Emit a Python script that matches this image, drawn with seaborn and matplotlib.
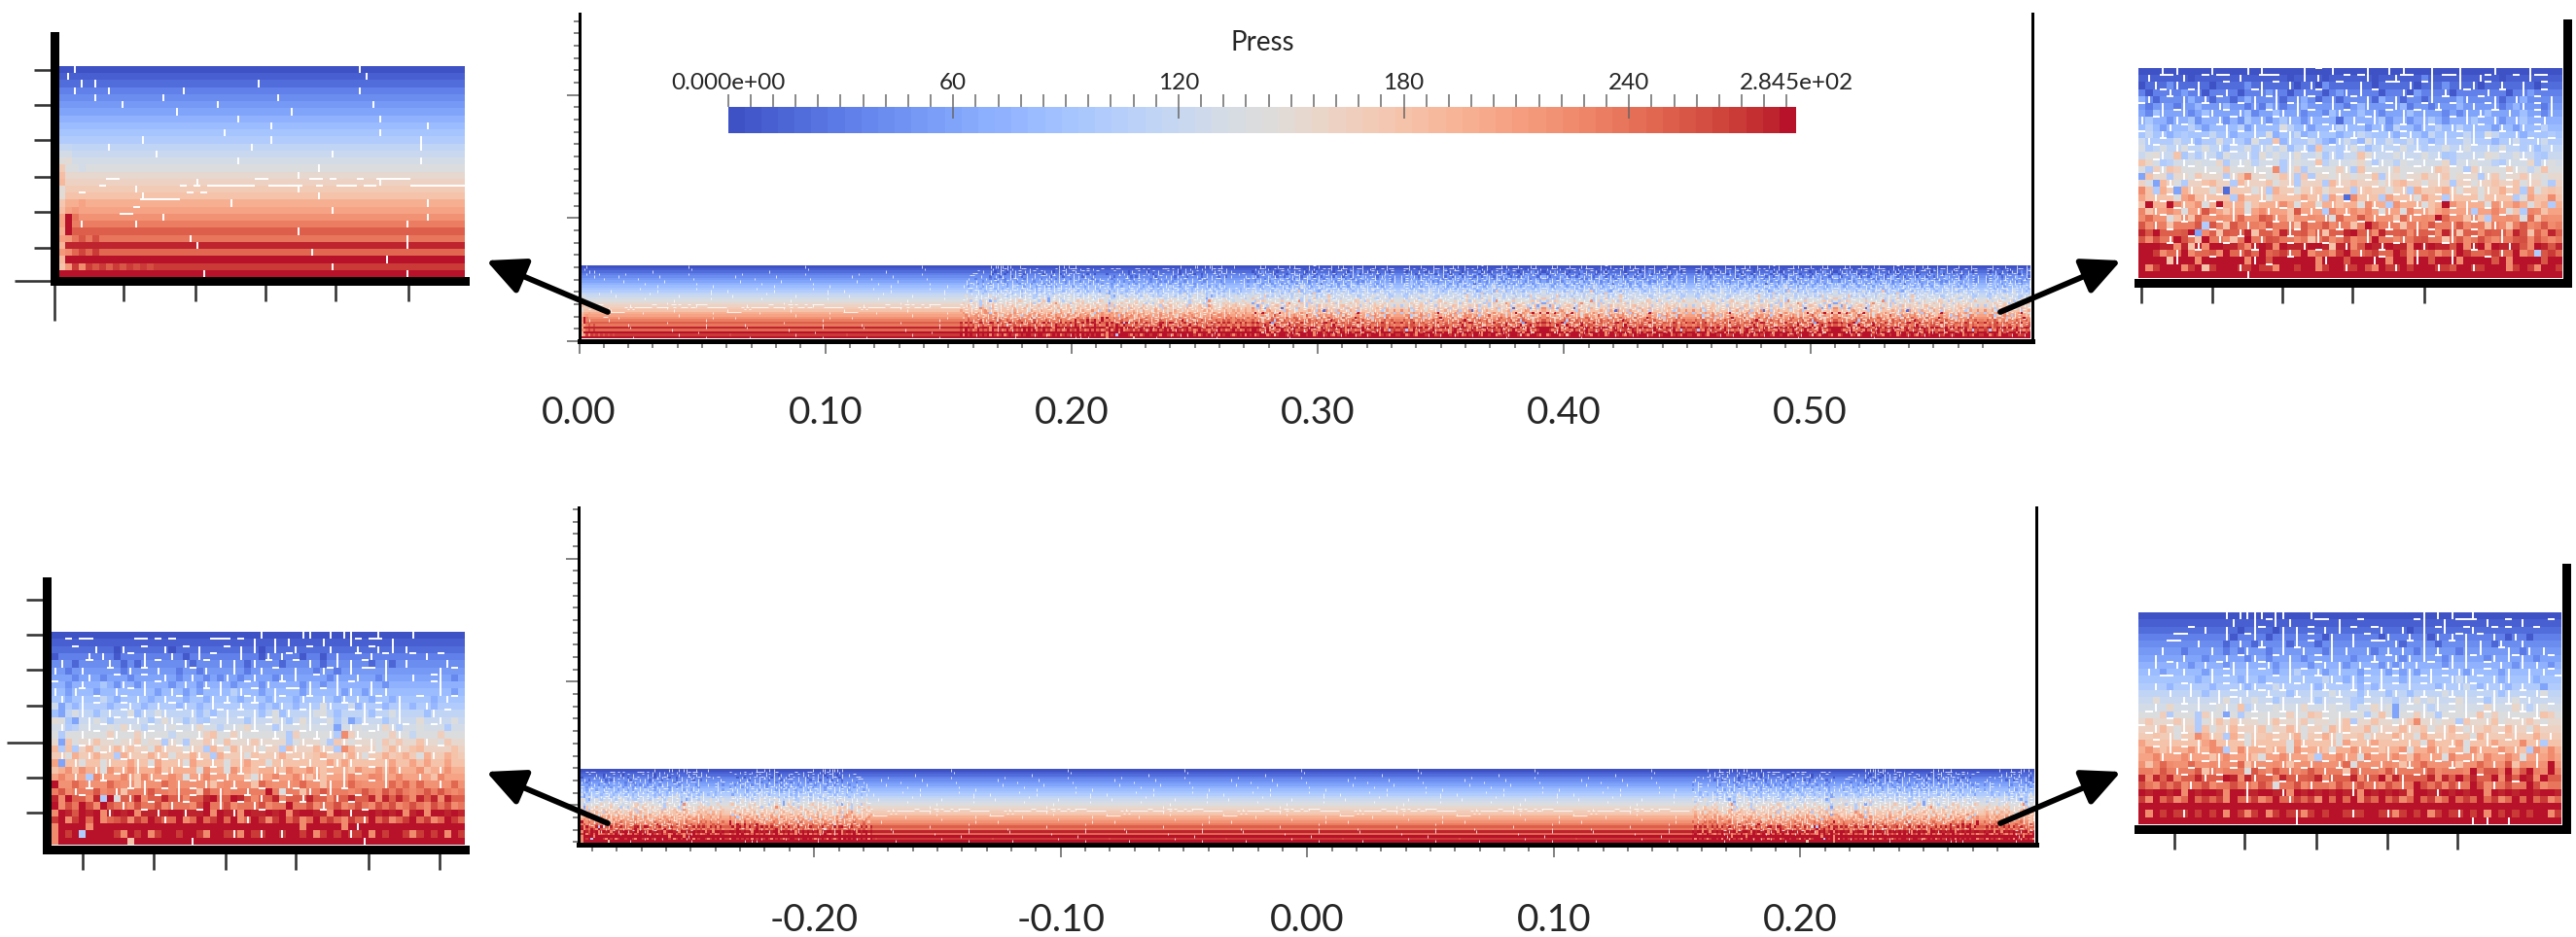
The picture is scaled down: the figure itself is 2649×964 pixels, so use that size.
"""   Pressure field of the slab, full strips with zoomed corners   """

import matplotlib
matplotlib.use('Agg')
import matplotlib.pyplot as plt
import numpy as np
import seaborn as sns


# ~~~~~~~~~~   Data   ~~~~~~~~~~~~~~~~~~~~~~~~~~~~~~~~~~~~~~~~~~~~~~~~~~~~~~~~~~~~~~~~~~ #
PRESS_MAX = 284.5
N_COLS = 60

# pressure of each particle row, free surface first
ROW_LEVELS = [4, 12, 22, 32, 42, 52, 62, 72, 82, 92, 102, 112, 122, 132, 142,
              152, 162, 172, 182, 196, 206, 222, 232, 252, 236, 280, 245, 284, 268, 284]

# upper left corner: slits between the particles and the odd cells
TL_V = [(0, 2), (0, 44), (1, 45), (1, 1), (2, 3), (2, 5), (2, 29), (3, 7), (3, 18), (3, 44), (3, 2),
        (4, 5), (4, 15), (4, 32), (5, 9), (5, 23), (5, 46), (6, 17), (6, 34), (7, 26), (7, 47),
        (8, 31), (8, 54), (9, 24), (9, 47), (10, 12), (10, 31), (10, 53), (11, 53), (11, 7), (11, 28),
        (12, 14), (12, 40), (13, 26), (13, 53), (14, 38), (15, 35), (16, 20), (17, 11), (17, 35),
        (16, 47), (18, 12), (18, 38), (19, 25), (19, 54), (20, 40), (21, 15), (21, 54), (22, 3),
        (22, 11), (22, 51), (23, 35), (24, 19), (24, 51), (25, 51), (25, 20), (26, 37), (27, 48),
        (28, 40), (29, 21), (29, 51)]
TL_H = [(16, 7, 9), (16, 29, 31), (16, 37, 39), (16, 40, 41), (16, 44, 45), (16, 47, 52),
        (17, 6, 7), (17, 18, 19), (17, 20, 21), (17, 22, 29), (17, 31, 36), (17, 38, 39),
        (17, 41, 44), (17, 45, 47), (17, 52, 60), (18, 3, 4), (18, 19, 20), (18, 21, 22),
        (19, 12, 18), (20, 11, 12), (21, 9, 11)]
TL_CELLS = [(11, 0, 120), (12, 0, 130), (13, 0, 145), (14, 0, 170), (15, 0, 185), (16, 0, 190),
            (17, 0, 150), (18, 0, 150), (19, 0, 175), (20, 0, 185), (21, 0, 205), (22, 0, 205),
            (23, 0, 200), (24, 0, 210), (25, 0, 195), (26, 0, 215), (27, 0, 190), (28, 0, 180),
            (21, 1, 284), (22, 1, 284), (23, 1, 284), (24, 1, 215), (26, 1, 225), (28, 1, 215),
            (28, 3, 225), (28, 5, 255), (28, 7, 250), (28, 9, 255), (28, 11, 258), (28, 13, 258),
            (26, 3, 265), (26, 5, 270), (24, 3, 255), (24, 5, 260), (13, 1, 150), (11, 1, 120),
            (12, 1, 130), (13, 3, 130), (14, 3, 130), (19, 3, 205), (20, 2, 215), (21, 2, 240)]

# the noisy corners, one letter per cell:
# . row level   + - a bit higher or lower   | ~ slit   B M L G P O S R fixed level
LEVEL_CODES = {'B': 20, 'M': 60, 'L': 100, 'G': 142, 'P': 180, 'O': 225, 'S': 255, 'R': 284}

TR_ROWS = [
    "...|.|....|-...|.|....-|.~.|....|-.|.|...|...|.-..|....|-..",
    ".|.~~.|-.~.~~.|..~~~.-.|.|-..~.~|-..|~~.+|.~~|..|~.-.~.|~~.",
    "-.|.+|..|.-.~..+.|.~.|-.|-+.~..|.-.~~.|-~|.+.|.|-~.|..|.-~.",
    ".-.~|.+~|-..|.-.~|+|.-.|.~-.+|.|.~-..|-+.|.|-.~..|.~-.|+.~.",
    "+|-.~.|+.|-~.-.+|.~|-.|+~-.|-.~.|-+.|-~.-|.~.+|.~.|-.|+.~.|",
    "~-.|.-|.+~.|+.~-|-+|-~|+.~.|.-~+|..~|+-.~-|.~+.|.~|-.+|.~-|",
    ".-+|.~|-.+|.~.|+-.~+|.|-~.-+|~.+.|-~.|+~|.~-.-|.|+~.|.+.~-|",
    "|+~.-|.+-~.|-~-+.|-~+|.-|.~.B.|.~|+-.|-.|+.-~.|+~.|-.|+.~|.",
    ".+.-|.~+.-.~|.+-|.~.G+.|-.~|+|.~-.|-+~.-|~+.|+.|~.-|.-|.~+.",
    "~+.|-.L.~.+.|-~.|.G-~|+-.|.~-.|+L~.|-~|.-+.|.~+|.G+~.|-.~.L",
    "+|.~L+.|-~.G.|.-G~.P-|.~+.-M|+~-G|.+.~+|.-L|.~+|L~-.|+.~|+~",
    "+L~+.|G~.G.|-~.+L|+~G-.|-P.~L|G~-.|.~G.|L~.+.|+~.|.G.~L|-.|",
    ".G+|.P-~L|.-G~.|L+.G.|+~.G-|L~.P+|.~G|.~G.|-L~.|.+G~.G|.L-.",
    "P+~L-.|.G.~+L.|G-.~.L|G.~P-.|.G+~L|.-G~.|.~+L.|G~.-L|.~+L|G",
    ".L+|P+.~.|.GP.~G|.~OL|+L.~.G+|LP.~.|+G.~.|P+~.L+|G.~+|.-GP.",
    "MP~.L.|G+.~.L|PO.~G.P|L+L.~G|.G.~PL|.G~.P.|+G.~.L|+G~.+|.G.",
    ".-M+|GL.~P+.~L+|.~PG.|L.~.L+|.P.~.G|P+~.G.|.L.~G|.P.~PG|.-L",
    "OPL+~M+|.~G.B.~.G|L+.~G.|P-.~.L|P~.G.|L+~.P+|G~.G|.+~PL+G.P",
    "+P|.~G+O.|P~.L+~.|G.P~.+.|L+~BO.|.L+~.|G+.~L|P~.G.|.~LG+P.O",
    "PR.~RO|.+G~R.|.GP~.|O.G~.G.|P~.GO|.L+~.|GP~R+.|~.G+|.+.GP.L",
    "+P|.O~G.|SO~P|.G.O|.~PS.|~L+.|O.+~G|.G+~|P.O~.|L.~+.GPL+OP.",
    "O+.~GP|P+.~O.|+~.S+|.P.~O.|G+~.SO|~.P+|~O.R+~.P|PL.~O.G+PO.",
    "SO|.P.~.+L+~PS.|.O+~.|P+~.SO|.P~R+.|~P.|O+~.|SO~.P|OP.+O.SO",
    "+SR.~.SRMO~PS.|+P.~O+|~SO|P.~+R.|O+~.SO|.~O+|P.~OS.|O+SP.O+",
    "SO+.|R+~PR.|OP~R.|+S.~O.P|SO~+O.|R.~O|.S+~.P|SO~+.O|.S+OS.O",
    "R+R.~O.P|OR+~.SO|R.O+~.|R+~P.|OSR.|+~.O+|R.~S+O|+OR.|.SO+.S",
    "RR+O.|RO~.SOR.|+~R.S+|.RO~.O+R.|S+~.R+O|.SO.|R+~.S+|.RO.LS+",
    "R+R.P|.RO.~+R.RO|.SR+~.R+O|.RS+R.|~O.RO|.SR+|O.R+~SRO+.R.SR",
    "RO.RR+O.RP.RR+|.R.~ORR.R+O.RR|.RSOR.|+.RR+|.SR+|.RR+O.R.O+R",
    "RRR.RR+RRR.RRRR|.RRRRR+R.RRRRRR+RRRR.R.RRRRR.RRRR.RRR+RRRR+",
]

BL_ROWS = [
    "..............................|.....||..|.||...|....|.......",
    "..~.~~......~~.~.~.....~~~.~.|..|.|....|...|~.~~.|..........",
    "...~..|..-|..~..|-.~.|...~.|.|-.|..|.~..|...|.~|.|.|........",
    "-....|.|.-.~.|...|.-.|.~...|..-|.|~.-..-.|..~.|.~...~.|.~...",
    ".|.-.~..|.-.-|.~...|-.~.|.|.-|.~.-.~.|.-.|.|.~-.|-.|.....|..",
    "|.-.|...~.-|.~.|..-.~-|...|.-.|.~..|..-|~-.|.~~.|.......|.~.",
    "...-.|.-.~.-.~..|.-.|.-.-|.-.|..-|.|..~.-|..|..-|...|..~|.-.",
    "~.-.|..+.-|.-|.~.-.|.-|.|.-.~.-|.~..-|.-.|.~..|.-......~|...",
    "|.-|~.-..|.~.|.-.|.-.-~.|.+|.~-.|.~~-|.~.|-|.-|.|.......|.-.",
    ".|-.|.~+.-~.|.-.|.~-.~-|.|.-~|.-|~.-|~.|.-|.|.-~.-|..~.-.|~.",
    "+M.-|.~.-.~|.-.|.~-|.-.|.~.|.~-.-|.-.|.G|.~+-|.~-.|.-.|-...",
    "-M.+|.-.|.~G-|.+|.~.|-.-~|.~.|-.G-|.~|+G.-.~.|-~.+|...-|.~.",
    "+G-M.|G.-~.~|.-~+|.-.L-~.|.~-|.~G|-.+|.~G-.M-|.~-.|..+..|.G",
    ".|L-.|.~G.+|.-~.|G~.|+~.-.|G+|.~L|.~G|.~.M.|G~.|+|-~.G.~.L.",
    "GLG.|G~.+|.~+|~G.-~.G|+P.~+|.~GG|.L+~.|.|LO+|.~G.+|.-G..+G.",
    ".M+G.|P.~G.|+G.~L|GL.~+|GP~.|+|.~.LG|.~GL+|G~.|G+.+..P|.G+.",
    "+LPL~+G.|+|P~.G+|.~G|.L+~G+|.|G~.L+|.~+|.LO+~.|G.+|.P+..~.P",
    ".|G+.|+~.L+|.~+|PG.~+|.L+~.|GP~.|+~.|.P+~.|+|G~.+.P+.G+|.+P",
    "+M.|GP.G|P~+|.G+~.|G+~P|.G.|+~.GP|.~P|.~+|+|.P~.|+.P+.+..+.",
    "P.+P+.|G+.|+|.~+P|.~.G+~.G+|.P~.|P+.~+|P~.|P+.~+|+|..+P.|+.",
    ".+.|.L+|.~+|P+|.~O.G.|+~.|.~PG|.+~.+|P|P~.|+~.+O|.+..|.P+..",
    "R..+O|.~+O.|P|.~+O|.~.|P~O|.~P+O~.|O+.~P|.|+O.~.|+O+.+..|.+",
    ".+O|.~+O.|P~.|+.~O|.~P+.|O~.|.~R.G.~P|.+|.~O.+.O+.+.O.+.+.O",
    "+OR.~O+LRG.|+O.~+.|O~.+R|.R+~O|.+O~.|+.~O|.+~.+O+.+.O+.+O+.",
    "RO+.R+ORS.|O+.~+O|.~O+R.|+O~.|+O.~R.~+O|.+O~+.O+.+O.+.O+.+O",
    "OR.SR.+O|R.+O~.|.R+|.~+OR.|OR.~R.+O.+R.~O+.|.~+.R.+O.+O+R.+",
    "+RO+R.RO.S+O+.R+|.RO.R.+R.RO|R+O+R.+O.R.+.O+.|R.+O.+R.+O.R+",
    "OR.RRO.R.RR+RR.RR.R+.RR+.R.RR.+R.R.RO.R.RRO.|RRRRR+RR.RR.RR",
    "OR.RLR+RR.OR.RO.RR.RR.O+R.|OR.|R+|RR.RO.R.R|.+O+.R+.O.R.+OR",
    "O.RRRRRRRR.PRRRRRRRR|RRRR.RRRRRRRRRRRRRRRRRRR|RRRRRRRRRRRRR",
]

BR_ROWS = [
    "............|.||||.||...|...............|.|.|..|............",
    ".............|..|.~|.|...~~.|..~.......~|..|.~~~.|..~.|...~",
    ".......~.|..|.-.|~.-|.|.~.|.|.~..~|..|-.|.~|..~|..~.~...~..",
    ".....~~.....|-.~|.-.|.|.~.-|..|.~.-|..|.|-|.|~|.~.|.-|.-....",
    "....~~..|...-.|.-|..|-|.~-.|..|..~~.|-~.|.-.~.|.|.-|..|.....",
    "...|..-...|.-.-|.~-.|.~|..-|.|..|-.|.|.-|.|..-|.|..~|.-|.|..",
    "..|...|..-..|.~-|.-~.|.-.~.|..-..|.~|-|.|.~-|.|~.-|.|~|.-.~.",
    "..|.~|.-.|.~-|.|.~|-.|..-~|.|-.|.~-|-|.|.~.-|.|..~.|.-|.|.-.",
    ".|.-..|..-|.~|.|.~.-.|+~.|-.|..-~.|-~-|-.|.~.|-|.~.-|..|.|~.",
    "...~~...-.|.~.-|.-.~.|.|.~+|.-|-~.|.~-|.~|.~|+|.~.|-|..|-..~",
    "..|.-.~|..-.~.|-|.~+|.~.|-|.~.|-~-|.~.|.~.-|.|+~-|.|-.|..M.",
    "....|..|.-.|.~.|.~|.~-|.|.~+|.~-|.~-|.-.|.~+|.|.~.|-|.~.|G.",
    "..+...|.|..|+~|.G.~-|.~.|-|.~.L-~.|.L.|+~G|.~+|.~-|.|G~|.~.",
    "..|.+.~.|.~G|.P-|.~G|.|+~.|G~.L.~+|GM.~.|-|.~G|.~+|.~+|-|G~",
    ".~.+L.~GL+|.M.LG~.|.~+|.P+~.|G~.L.PGM.~+|.LG~.|.P~+.|G~.|P+",
    ".+..~+|.LG|P~+|.~G|P~.|+G.~G|PL.~P.~G|+O.|G~.L+~.|PG.~|+~G.",
    "~.|+~G|.LPG.|+~.|PG.~+|G~.G+|P~.+G|.~+|.PG.|+~G|.P.~+|.GP~.",
    ".~P.|G~.O+|.L+~G|.P~.|+G.~+|G~.PG|.~+|.G+~.|P~.G+|.~P|.~+.|",
    "+.~.|P~.|+O.|P~G|.P~.G+|.~P|G+~.|+P.~P|.G+~.|+G~.|+.~.O.|LP",
    ".+~P|.~+|.O+LPO|.~P|.G+~.|PG.~+|.~P|.+G.~+|P~.G+|.~+.|PL+.O",
    "..+|.~O|.~P|O~.|PG.~O|.~PL.~O|.G+~.|O~P+.|.G+~.|P+.~+.G.|.O",
    ".P.+O..+.~O|.~+P|.~O|P~.|O~.|+G.~.|O~P|O+.~.|P~.+O|.SPO.|.R",
    "..O+.|.~+P|O.~.G+~O+.|O~+.|.~P+|.~O+|.~.|+O.~.OR.S+.RO+R.OR",
    "+O+.+O~.+|.~R+O+|.~O+.|.S+O|.~+O|.RO+|.~.+O+.R.+~.RO+.R+OR.",
    "+.O+.+O|.+O~.+.|O+.G~.+O|.~O+.|+.|O+.|.R+.+O+|.R+O|.+~.R+O.",
    "R.+R.+OR.+R.O+R|.+R.|O+.+.R.R.|O+.R.+.O+R.|+.R.+RO+.R.+R.+R",
    "+OR.+O.R.+.+OR.|+O.R.|+.+OR.R.RO+.R.+O.R.+O.R.+.R.+O.R.R.+O",
    "R.R.RR.R.RR.RR.R.RRR.R.RR.R.R.R.RR.R.RR.RR.RR.R.RR.RR.R.RR.",
    "+OR.+.|R.R.+OR.O.+O.R.|O.R.+R.|.R+.|O.R.+O.R.|+.RO+.R.R.R+O",
    "RRRRRRRRRRRRRRRRRRRRRR|RRRRRRRRRRRRRRRRRRRRRRRR|R|RR|.RRRRR",
]

# which corner block each stretch of a strip looks like, from left to right
TOP_STRIP_BLOCKS = ['TL', 'calm', 'calm', 'BR', 'BL', 'TR', 'TR_f', 'TR', 'TR_f', 'TR', 'TR_f']
BOTTOM_STRIP_BLOCKS = ['BL', 'BR_f', 'calm', 'calm', 'calm', 'calm', 'calm', 'calm', 'calm',
                       'BL_f', 'BR', 'BL_f']

TOP_X_MAJOR = [0.0, 0.1, 0.2, 0.3, 0.4, 0.5]
TOP_X_LABELS = ['0.00', '0.10', '0.20', '0.30', '0.40', '0.50']
BOTTOM_X_MAJOR = [-0.2, -0.1, 0.0, 0.1, 0.2]
BOTTOM_X_LABELS = ['-0.20', '-0.10', '0.00', '0.10', '0.20']
Y_MAJOR = [0.0, 0.05, 0.10]

CBAR_TICKS = [0, 60, 120, 180, 240, PRESS_MAX]
CBAR_LABELS = ['0.000e+00', '60', '120', '180', '240', '2.845e+02']

W, H = 2649, 964
PALETTE = sns.color_palette('coolwarm', 64)
sns.set_style('white')
plt.rcParams['font.family'] = ['Lato', 'DejaVu Sans']
PX = 72 / 100  # points per pixel at dpi 100


# ~~~~~~~~~~   Definition of Functions   ~~~~~~~~~~~~~~~~~~~~~~~~~~~~~~~~~~~~~~~~~~~~~~~ #
def parse_grid(rows):
    matrix = np.tile(np.array(ROW_LEVELS, dtype=float), (N_COLS, 1)).T
    vert, horiz = [], []
    for r, row in enumerate(rows):
        for c, code in enumerate(row.ljust(N_COLS, '.')[:N_COLS]):
            if code == '+':
                matrix[r, c] += 25
            elif code == '-':
                matrix[r, c] -= 25
            elif code == '|':
                vert.append((r, c))
            elif code == '~':
                horiz.append((r, c, c + 1))
            elif code in LEVEL_CODES:
                matrix[r, c] = LEVEL_CODES[code]
    return np.clip(matrix, 0, PRESS_MAX), vert, horiz


def flipped(block):
    matrix, vert, horiz = block
    n = matrix.shape[1]
    return (matrix[:, ::-1], [(r, n - 1 - c) for r, c in vert],
            [(r, n - c1, n - c0) for r, c0, c1 in horiz])


def calm_part(block, first=12):
    matrix, vert, horiz = block
    return (matrix[:, first:], [(r, c - first) for r, c in vert if c >= first],
            [(r, c0 - first, c1 - first) for r, c0, c1 in horiz if c0 >= first])


def join_blocks(names, n_cols):
    # the strips are too fine to read cell by cell, they repeat the corner blocks
    parts, vert, horiz, offset = [], [], [], 0
    for name in names:
        matrix, v, h = BLOCKS[name]
        parts.append(matrix)
        vert += [(r, c + offset) for r, c in v]
        horiz += [(r, c0 + offset, c1 + offset) for r, c0, c1 in h]
        offset += matrix.shape[1]
    matrix = np.hstack(parts)[:, :n_cols]
    vert = [s for s in vert if s[1] < n_cols]
    horiz = [s for s in horiz if s[2] <= n_cols]
    return matrix, vert, horiz


def draw_panel(block, ax_box, cell_box, x_range=None, y_range=None, slit=1.4):
    # boxes are (left, top, right, bottom) in pixels of the figure
    matrix, vert, horiz = block
    left, top, right, bottom = ax_box
    ax = fig.add_axes([left / W, 1 - bottom / H, (right - left) / W, (bottom - top) / H])
    sns.heatmap(matrix, vmin=0, vmax=PRESS_MAX, cmap=PALETTE, cbar=False,
                xticklabels=False, yticklabels=False, ax=ax)

    # vertical and horizontal slits of white between particles
    ax.vlines([c + 0.5 for r, c in vert], [r for r, c in vert], [r + 1 for r, c in vert],
              color='white', lw=slit)
    ax.hlines([r for r, c0, c1 in horiz], [c0 for r, c0, c1 in horiz],
              [c1 for r, c0, c1 in horiz], color='white', lw=slit)

    # the axes reach past the cells, so widen the limits of the heatmap
    sx = (cell_box[2] - cell_box[0]) / matrix.shape[1]
    sy = (cell_box[3] - cell_box[1]) / matrix.shape[0]
    ax.set_xlim((left - cell_box[0]) / sx, (right - cell_box[0]) / sx)
    ax.set_ylim((bottom - cell_box[1]) / sy, (top - cell_box[1]) / sy)

    x_range = x_range or (left, right)
    y_range = y_range or (top, bottom)

    def to_x(values):
        px = left + (np.asarray(values) - x_range[0]) / (x_range[1] - x_range[0]) * (right - left)
        return (px - cell_box[0]) / sx

    def to_y(values):
        px = top + (np.asarray(values) - y_range[0]) / (y_range[1] - y_range[0]) * (bottom - top)
        return (px - cell_box[1]) / sy

    return ax, to_x, to_y


def style_inset(ax, to_x, to_y, sides, x_ticks, x_long=(), y_ticks=(), y_long=()):
    for side, spine in ax.spines.items():
        spine.set_visible(side in sides)
        spine.set_linewidth(9 * PX)
        spine.set_color('black')
    ax.set_xticks(to_x(x_long))
    ax.set_xticks(to_x(x_ticks), minor=True)
    ax.set_yticks(to_y(y_long))
    ax.set_yticks(to_y(y_ticks), minor=True)
    ax.set_xticklabels([])
    ax.set_yticklabels([])
    ax.tick_params(which='minor', bottom=True, left=len(y_ticks) > 0, length=21 * PX, width=2.6 * PX, color='#333333')
    ax.tick_params(which='major', bottom=True, left=True, length=41 * PX, width=2.6 * PX, color='#333333')


def style_strip(ax, to_x, to_y, x_major, x_labels, x_minor, y_minor, pad):
    for side, spine in ax.spines.items():
        spine.set_visible(side != 'top')
        spine.set_color('black')
        spine.set_linewidth(3 * PX)
    ax.spines['bottom'].set_linewidth(5 * PX)
    ax.set_xticks(to_x(x_major))
    ax.set_xticklabels(x_labels, fontsize=28, rotation=0)
    ax.set_xticks(to_x(x_minor), minor=True)
    ax.set_yticks(to_y(Y_MAJOR))
    ax.set_yticklabels([])
    ax.set_yticks(to_y(y_minor), minor=True)
    ax.tick_params(which='major', bottom=True, left=True, length=13 * PX, width=1.6 * PX, color='#666666', pad=pad)
    ax.tick_params(which='minor', bottom=True, left=True, length=6.5 * PX, width=1.6 * PX, color='#666666')


# ~~~~~~~~~~  Program Execution   ~~~~~~~~~~~~~~~~~~~~~~~~~~~~~~~~~~~~~~~~~~~~~~~~~~~~~ #
fig = plt.figure(figsize=(W / 100, H / 100), dpi=100)

# upper left block is smooth, it takes its odd cells from the lists
tl_matrix = np.tile(np.array(ROW_LEVELS, dtype=float), (N_COLS, 1)).T
for r, c, value in TL_CELLS:
    tl_matrix[r, c] = value
TL_BLOCK = (tl_matrix, TL_V, TL_H)
TR_BLOCK = parse_grid(TR_ROWS)
BL_BLOCK = parse_grid(BL_ROWS)
BR_BLOCK = parse_grid(BR_ROWS)
BLOCKS = {'TL': TL_BLOCK, 'calm': calm_part(TL_BLOCK),
          'TR': TR_BLOCK, 'TR_f': flipped(TR_BLOCK),
          'BL': BL_BLOCK, 'BL_f': flipped(BL_BLOCK),
          'BR': BR_BLOCK, 'BR_f': flipped(BR_BLOCK)}

# zoomed corners
ax, to_x, to_y = draw_panel(TL_BLOCK, (55.5, 37, 478, 289), (60, 68, 478, 285))
style_inset(ax, to_x, to_y, ('left', 'bottom'), [127, 201, 273, 345, 420], [55.5],
            [72, 108, 144, 182, 218, 255], [289])

ax, to_x, to_y = draw_panel(TR_BLOCK, (2199, 24, 2639.5, 290.5), (2199, 70, 2635, 286))
style_inset(ax, to_x, to_y, ('right', 'bottom'), [2202, 2275, 2347, 2419, 2493])
ax.tick_params(which='major', left=False)

ax, to_x, to_y = draw_panel(BL_BLOCK, (48, 598, 478, 873.5), (53, 650, 478, 869))
style_inset(ax, to_x, to_y, ('left', 'bottom'), [85, 158, 232, 304, 379, 452], (),
            [617, 653, 689, 726, 800, 836], [764])

ax, to_x, to_y = draw_panel(BR_BLOCK, (2199, 584, 2639, 853), (2199, 630, 2634, 848))
style_inset(ax, to_x, to_y, ('right', 'bottom'), [2236, 2308, 2382, 2455, 2527])
ax.tick_params(which='major', left=False)

# full strips
top_block = join_blocks(TOP_STRIP_BLOCKS, 596)
ax, to_x, to_y = draw_panel(top_block, (595.5, 14, 2089.5, 351), (597, 273, 2088, 348),
                            x_range=(0, 0.59), y_range=(0.133, 0), slit=0.55)
style_strip(ax, to_x, to_y, TOP_X_MAJOR, TOP_X_LABELS, np.arange(1, 58) / 100,
            np.arange(1, 27) * 0.005, pad=31)

bottom_block = join_blocks(BOTTOM_STRIP_BLOCKS, 598)
ax, to_x, to_y = draw_panel(bottom_block, (594.5, 522, 2094, 868.5), (597, 791, 2092, 867),
                            x_range=(-0.2957, 0.2957), y_range=(0.1208, -0.0159), slit=0.55)
style_strip(ax, to_x, to_y, BOTTOM_X_MAJOR, BOTTOM_X_LABELS, np.arange(-29, 29) / 100,
            np.arange(-3, 25) * 0.005, pad=34)

# colour bar
cb_left, cb_right = 748.5, 1847
cax = fig.add_axes([cb_left / W, 1 - 137 / H, (cb_right - cb_left) / W, 27 / H])
sns.heatmap(np.linspace(0, PRESS_MAX, 64)[None, :], vmin=0, vmax=PRESS_MAX, cmap=PALETTE, cbar=False,
            xticklabels=False, yticklabels=False, ax=cax)
cb_x = lambda v: np.asarray(v) / PRESS_MAX * 64
cax.set_xticks(cb_x(CBAR_TICKS))
cax.set_xticklabels(CBAR_LABELS, fontsize=17.5, rotation=0)
cax.set_xticks(cb_x(np.arange(6, 283, 6)), minor=True)
cax.tick_params(which='both', top=True, bottom=False, labeltop=True, labelbottom=False,
                length=13 * PX, width=1.5 * PX, color='#666666', pad=0.5)
cax.xaxis.get_major_ticks()[-1].tick2line.set_visible(False)
cax.vlines(cb_x(CBAR_TICKS[1:5]), 0, 0.45, color='#666666', lw=1.5 * PX)

# overlay in figure pixels for the title of the bar and the arrows
over = fig.add_axes([0, 0, 1, 1], facecolor='none')
over.set_xlim(0, W)
over.set_ylim(H, 0)
over.axis('off')
over.text(1298, 44, 'Press', fontsize=20, ha='center', va='center')
for tail, tip in [((625, 321), (500, 268)), ((2057, 321), (2181, 268)),
                  ((625, 847), (500, 794)), ((2057, 847), (2181, 794))]:
    over.annotate('', xy=tip, xytext=tail,
                  arrowprops=dict(arrowstyle='-|>,head_length=1.15,head_width=0.55', lw=4.2, color='black',
                                  mutation_scale=21, shrinkA=0, shrinkB=0))

fig.savefig('out.png', dpi=100)
